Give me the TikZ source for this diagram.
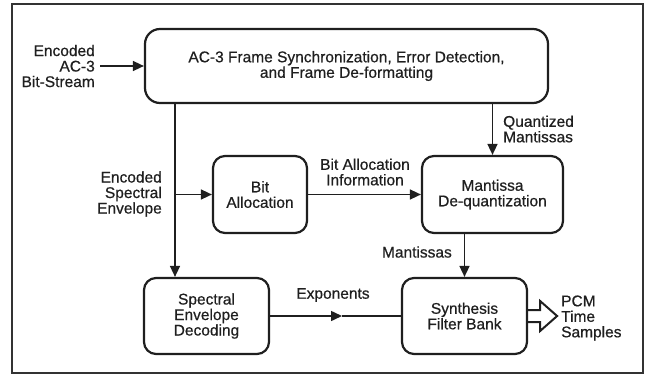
\documentclass[tikz,border=0pt]{standalone}
\usepackage{fontspec}
\setmainfont{Liberation Sans}[FakeBold=0.6]
\usetikzlibrary{arrows.meta}
\begin{document}
\begin{tikzpicture}[x=1pt,y=-1pt,
  font=\fontsize{15.5}{15.5}\selectfont,
  blk/.style={draw=black!88, line width=2.2pt, rounded corners=12pt, align=center, inner sep=0pt, text=black!88},
  conn/.style={draw=black!88, line width=1.5pt, -{Triangle[length=11pt,width=10pt]}},
  plain/.style={draw=black!88, line width=1.5pt},
  lbl/.style={inner sep=0pt, text=black!88}]
\useasboundingbox (0,0) rectangle (648,375);
\draw[line width=2pt, draw=black!80] (12,4) rectangle (643,373);

\node[blk, minimum width=403pt, minimum height=74pt, rounded corners=15pt] (sync) at (346.5,66)
  {AC-3 Frame Synchronization, Error Detection,\\and Frame De-formatting};
\node[blk, minimum width=94pt, minimum height=77pt] (bitalloc) at (260,194.5) {Bit\\Allocation};
\node[blk, minimum width=141pt, minimum height=77pt] (mant) at (492.5,194.5) {Mantissa\\De-quantization};
\node[blk, minimum width=125pt, minimum height=76pt] (spec) at (206.5,316) {Spectral\\Envelope\\Decoding};
\node[blk, minimum width=125pt, minimum height=76pt] (synth) at (464.5,316) {Synthesis\\Filter Bank};

% input
\coordinate (in) at (100,66);
\draw[conn] (in) -- (sync.west);
\node[lbl, align=right, anchor=east] (inlbl) at (95,66) {Encoded\\AC-3\\Bit-Stream};

% spine
\coordinate (spx) at (175,194.5);
\draw[conn] (spx |- sync.south) -- (spx |- spec.north);
\draw[conn] (spx) -- (bitalloc.west);
\node[lbl, align=right, anchor=east] (envlbl) at (162,194) {Encoded\\Spectral\\Envelope};

% bit allocation info
\draw[conn] (bitalloc.east) -- (mant.west);
\node[lbl, align=center] (bailbl) at (365,172) {Bit Allocation\\Information};

% quantized mantissas
\draw[conn] (sync.south -| mant) -- (mant.north);
\node[lbl, align=left, anchor=west] (qmlbl) at (503,129) {Quantized\\Mantissas};

% mantissas
\draw[conn] (mant.south -| synth) -- (synth.north);
\node[lbl, anchor=east] (mlbl) at (452,252) {Mantissas};

% exponents
\coordinate (expt) at (342,316);
\draw[conn] (spec.east) -- (expt);
\draw[plain] (expt) -- (synth.west);
\node[lbl] (explbl) at (333,295) {Exponents};

% output hollow arrow
\draw[draw=black!88, line width=2pt, line join=miter] (synth.east) ++(0,-6) -- ++(12,0) -- ++(0,-9) -- ++(17,15) -- ++(-17,15) -- ++(0,-9) -- ++(-12,0);
\node[lbl, align=left, anchor=west] (pcmlbl) at (561,318) {PCM\\Time\\Samples};
\end{tikzpicture}
\end{document}
